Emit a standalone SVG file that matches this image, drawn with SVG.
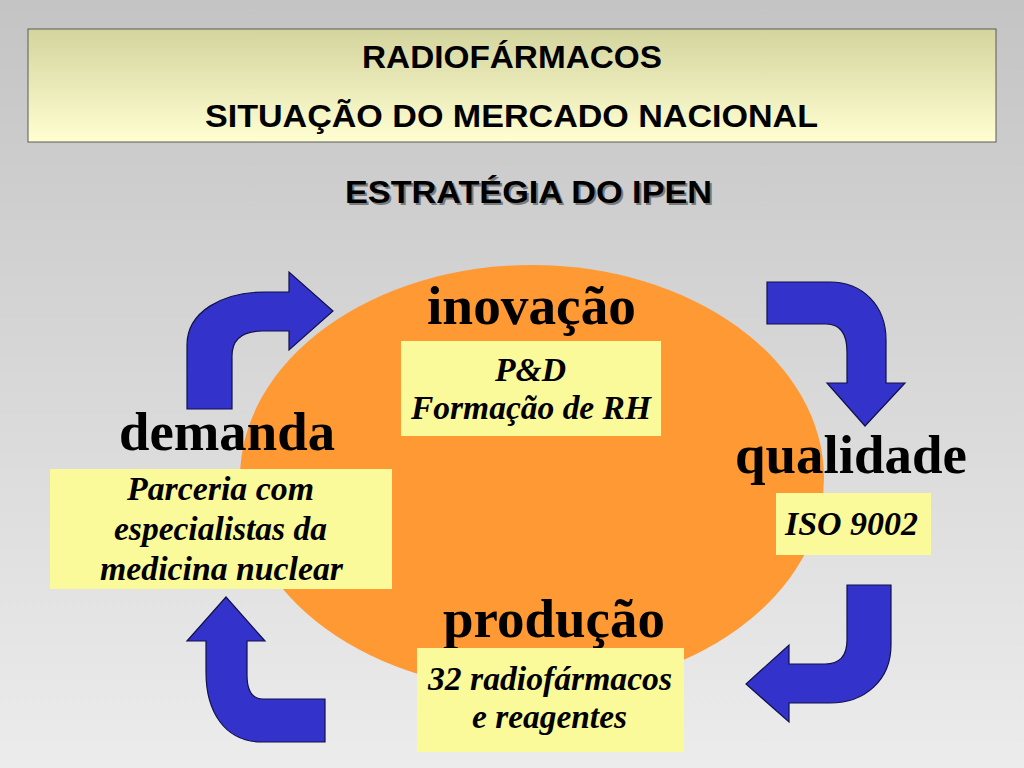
<svg xmlns="http://www.w3.org/2000/svg" width="1024" height="768" viewBox="0 0 1024 768">
<defs>
<linearGradient id="bg" x1="0" y1="0" x2="0" y2="1">
<stop offset="0" stop-color="#c4c4c4"/>
<stop offset="1" stop-color="#ececec"/>
</linearGradient>
<linearGradient id="tb" x1="0" y1="0" x2="0" y2="1">
<stop offset="0" stop-color="#d4d49e"/>
<stop offset="1" stop-color="#ffffd2"/>
</linearGradient>
</defs>
<style>
.ttl{font-family:"Liberation Sans",Arial,sans-serif;font-weight:bold;font-size:32px;fill:#000}
.big{font-family:"Liberation Serif","Times New Roman",serif;font-weight:bold;font-size:54px;fill:#000}
.sub{font-family:"Liberation Serif","Times New Roman",serif;font-weight:bold;font-style:italic;font-size:33px;fill:#000}
.box{fill:#fafa9a}
.arr{fill:#3333cc;stroke:#10104a;stroke-width:1.2;stroke-linejoin:miter}
</style>
<rect x="0" y="0" width="1024" height="768" fill="url(#bg)"/>
<g id="title">
<rect x="28" y="29" width="968" height="113" fill="url(#tb)" stroke="#5a5a5a" stroke-width="1"/>
<text class="ttl" x="362" y="68" textLength="300" lengthAdjust="spacingAndGlyphs">RADIOFÁRMACOS</text>
<text class="ttl" x="205" y="127" textLength="613" lengthAdjust="spacingAndGlyphs">SITUAÇÃO DO MERCADO NACIONAL</text>
</g>
<g id="subtitle">
<text class="ttl" x="347" y="205" textLength="367" lengthAdjust="spacingAndGlyphs" style="fill:#7a7a7a">ESTRATÉGIA DO IPEN</text>
<text class="ttl" x="345" y="203" textLength="367" lengthAdjust="spacingAndGlyphs">ESTRATÉGIA DO IPEN</text>
</g>
<ellipse id="center-ellipse" cx="532" cy="478" rx="292" ry="213" fill="#ff9933"/>
<g id="connectors">
<path class="arr" d="M187,409 L187,345 C187,312 222,292 265,292 L289,292 L289,272 L333,311 L289,350 L289,331 L262,331 C244,331 232,338 232,356 L232,409 Z"/>
<path class="arr" d="M767,282 L830,282 C862,282 886,305 886,340 L886,383 L905,383 L865,426 L827,383 L847,383 L847,352 C847,334 840,324 826,324 L767,324 Z"/>
<path class="arr" d="M847,585 L891,585 L891,645 C891,680 865,703 830,703 L789,703 L789,722 L746,684 L789,645 L789,664 L825,664 C840,664 847,656 847,640 Z"/>
<path class="arr" d="M325,699 L263,699 C252,699 247,690 247,675 L247,641 L265,641 L226,597 L187,641 L206,641 L206,672 C206,712 225,742 262,742 L325,742 Z"/>
</g>
<g id="inovacao">
<text class="big" x="427" y="324" textLength="209" lengthAdjust="spacingAndGlyphs">inovação</text>
<rect class="box" x="401" y="341" width="260" height="95"/>
<text class="sub" x="495" y="381" textLength="71" lengthAdjust="spacingAndGlyphs">P&amp;D</text>
<text class="sub" x="411" y="419" textLength="240" lengthAdjust="spacingAndGlyphs">Formação de RH</text>
</g>
<g id="demanda">
<text class="big" x="119" y="450" textLength="216" lengthAdjust="spacingAndGlyphs">demanda</text>
<rect class="box" x="50" y="469" width="342" height="120"/>
<text class="sub" x="127" y="500" textLength="187" lengthAdjust="spacingAndGlyphs">Parceria com</text>
<text class="sub" x="114" y="540" textLength="213" lengthAdjust="spacingAndGlyphs">especialistas da</text>
<text class="sub" x="100" y="580" textLength="243" lengthAdjust="spacingAndGlyphs">medicina nuclear</text>
</g>
<g id="qualidade">
<text class="big" x="735" y="473" textLength="232" lengthAdjust="spacingAndGlyphs">qualidade</text>
<rect class="box" x="776" y="493" width="155" height="62"/>
<text class="sub" x="785" y="535" textLength="133" lengthAdjust="spacingAndGlyphs">ISO 9002</text>
</g>
<g id="producao">
<text class="big" x="443" y="637" textLength="222" lengthAdjust="spacingAndGlyphs">produção</text>
<rect class="box" x="417" y="648" width="267" height="104"/>
<text class="sub" x="428" y="690" textLength="244" lengthAdjust="spacingAndGlyphs">32 radiofármacos</text>
<text class="sub" x="472" y="728" textLength="155" lengthAdjust="spacingAndGlyphs">e reagentes</text>
</g>
</svg>
